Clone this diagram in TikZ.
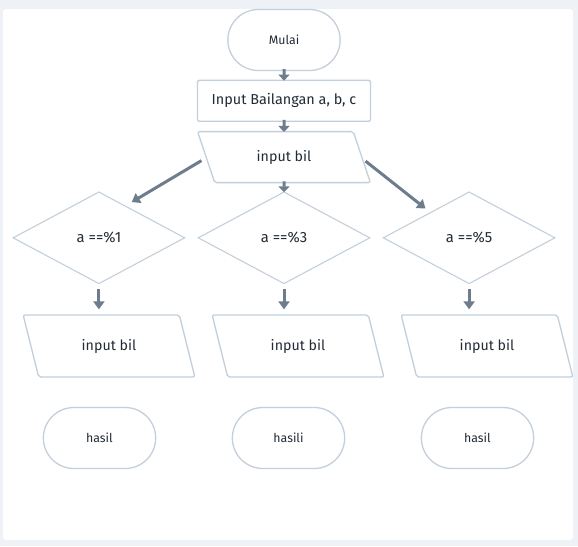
\documentclass[tikz,border=0pt]{standalone}
\usepackage{fontspec}
\setmainfont{Fira Sans}
\usetikzlibrary{shapes.geometric, shapes.misc, calc, positioning, arrows.meta}
\definecolor{pagebg}{HTML}{EEF1F5}
\definecolor{edgecol}{HTML}{C3CFDB}
\definecolor{flowcol}{HTML}{6E7D8C}
\definecolor{inkcol}{HTML}{222B35}

\begin{document}
\begin{tikzpicture}[x=1pt, y=1pt,
  term/.style={draw=edgecol, line width=1.3pt, rounded rectangle, minimum width=119pt, minimum height=61pt, text=inkcol, font=\fontsize{12.3}{14}\selectfont},
  box/.style={draw=edgecol, line width=1.3pt, rounded corners=2pt, minimum width=173pt, minimum height=41pt, text=inkcol, font=\fontsize{14.4}{17}\selectfont},
  io/.style={draw=edgecol, line width=1.3pt, trapezium, trapezium stretches=true, trapezium left angle=108, trapezium right angle=72, rounded corners=2pt, minimum width=173pt, minimum height=62pt, text=inkcol, font=\fontsize{14.2}{17}\selectfont},
  cond/.style={draw=edgecol, line width=1.1pt, diamond, minimum width=172pt, minimum height=92pt, inner sep=0pt, text=inkcol, font=\fontsize{14.8}{17}\selectfont},
  flow/.style={draw=flowcol, line width=3pt, -{Triangle[width=11pt,length=8pt]}},
  flowtop/.style={flow, -{Triangle[width=11pt,length=6pt]}, shorten <=-2pt, shorten >=-1pt}]
  \fill[pagebg] (0,0) rectangle (578,-546);
  \fill[white, rounded corners=3pt] (3,-9) rectangle (573,-540);
  \node[term] (mulai) at (284,-40) {Mulai};
  \node[box, below=8.5pt of mulai] (inp) {Input Bailangan a, b, c};
  \node[io, trapezium left angle=110, trapezium right angle=70, minimum height=51pt, below=9pt of inp] (bil) {input bil};
  \node[cond, below=8pt of bil] (cek2) {a ==\%3};
  \node[cond, left=12pt of cek2] (cek1) {a ==\%1};
  \node[cond, right=12pt of cek2] (cek3) {a ==\%5};
  \node[io] (bil1) at (109,-346) {input bil};
  \node[io] (bil2) at (298,-346) {input bil};
  \node[io] (bil3) at (487,-346) {input bil};
  \node[term] (hasil1) at (99.5,-438) {hasil};
  \node[term] (hasil2) at (288.5,-438) {hasili};
  \node[term] (hasil3) at (477.5,-438) {hasil};
  \draw[flowtop] (mulai) -- (inp);
  \draw[flowtop] (inp) -- (bil);
  \draw[flowtop] (bil) -- (cek2);
  \draw[flow, shorten >=7pt] ($(bil.west)+(-4,-3.5)$) -- ($(cek1.north)!0.31!(cek1.east)$);
  \draw[flow, shorten >=6pt] ($(bil.east)+(3,-4)$) -- ($(cek3.north)!0.45!(cek3.west)$);
  \draw[flow, shorten <=5pt, shorten >=5pt] (cek1.south) -- (cek1.south |- bil1.north);
  \draw[flow, shorten <=5pt, shorten >=5pt] (cek2.south) -- (cek2.south |- bil2.north);
  \draw[flow, shorten <=5pt, shorten >=5pt] (cek3.south) -- (cek3.south |- bil3.north);
\end{tikzpicture}
\end{document}
